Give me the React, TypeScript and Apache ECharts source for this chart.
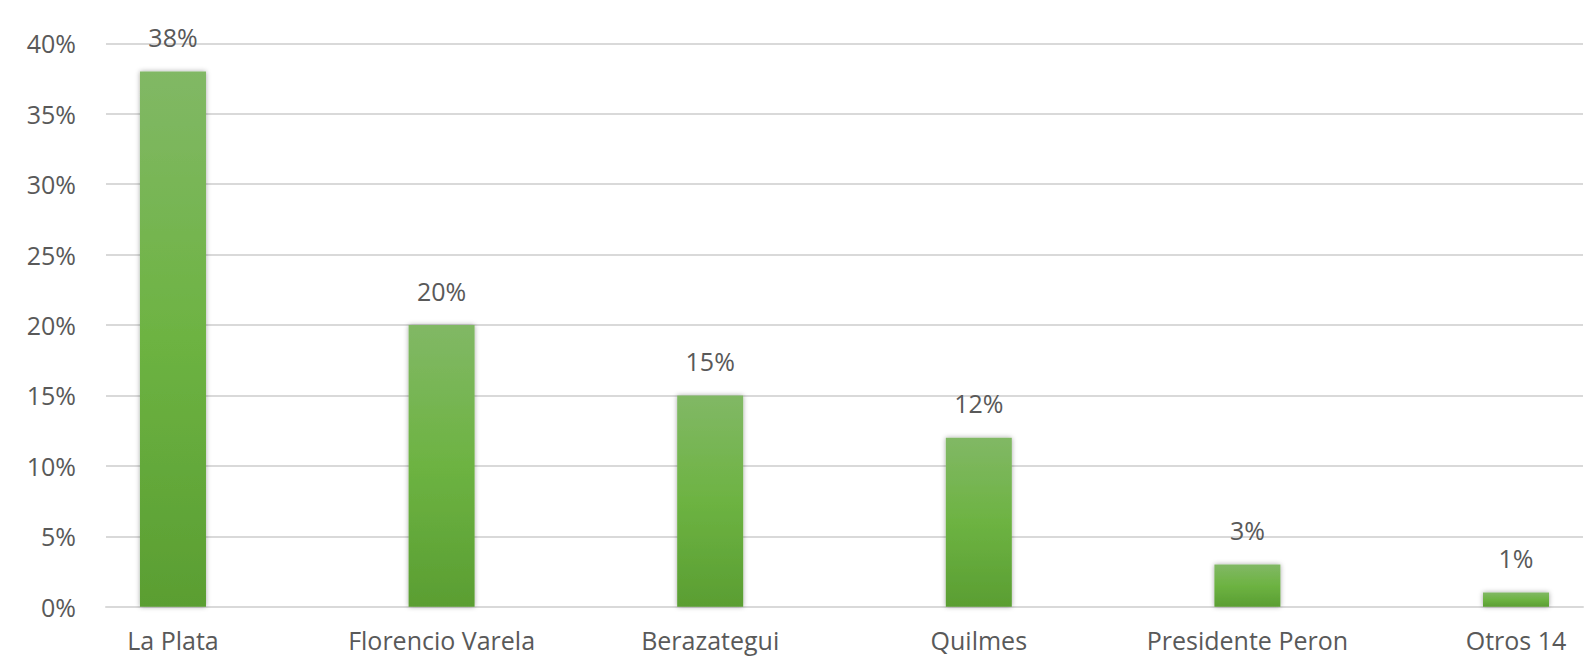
import React, { useEffect, useRef } from "react";
import * as echarts from "echarts";

const categories = ["La Plata", "Florencio Varela", "Berazategui", "Quilmes", "Presidente Peron", "Otros 14"];
const values = [38, 20, 15, 12, 3, 1];
const yTicks = [0, 5, 10, 15, 20, 25, 30, 35, 40];

export default function App() {
  const ref = useRef<HTMLDivElement>(null);
  useEffect(() => {
    if (!ref.current) return;
    const chart = echarts.init(ref.current, undefined, { renderer: "svg" });
    const font = "'Open Sans', sans-serif";
    const textColor = "#595959";
    const positions = categories.map((_, i) => i);
    chart.setOption({
      animation: false,
      backgroundColor: "#ffffff",
      grid: { left: 106, right: 9, top: 43.3, bottom: 61.3 },
      xAxis: {
        type: "value",
        min: -0.2494,
        max: 5.2494,
        axisLine: { show: true, onZero: false, lineStyle: { color: "#d9d9d9", width: 2 } },
        axisTick: { show: false },
        splitLine: { show: false },
        axisLabel: {
          customValues: positions,
          color: textColor,
          fontFamily: font,
          fontSize: 25,
          margin: 21,
          formatter: (v: number) => categories[Math.round(v)] ?? "",
        },
      },
      yAxis: {
        type: "value",
        min: yTicks[0],
        max: yTicks[yTicks.length - 1],
        interval: 5,
        axisLine: { show: false },
        axisTick: { show: false },
        splitLine: { lineStyle: { color: "#d9d9d9", width: 2 } },
        axisLabel: {
          color: textColor,
          fontFamily: font,
          fontSize: 25,
          margin: 30,
          formatter: "{value}%",
        },
      },
      series: [
        {
          type: "bar",
          data: values.map((v, i) => [positions[i], v]),
          barWidth: 66,
          itemStyle: {
            color: new echarts.graphic.LinearGradient(0, 0, 0, 1, [
              { offset: 0, color: "#81b865" },
              { offset: 0.5, color: "#6db342" },
              { offset: 1, color: "#5a9e32" },
            ]),
            shadowColor: "rgba(0,0,0,0.35)",
            shadowBlur: 5,
          },
          label: {
            show: true,
            position: "top",
            distance: 22,
            color: textColor,
            fontFamily: font,
            fontSize: 25,
            formatter: (p: any) => p.value[1] + "%",
          },
        },
      ],
    });
    return () => chart.dispose();
  }, []);
  return <div ref={ref} style={{ width: 1592, height: 668, position: "absolute", left: 0, top: 0 }} />;
}
